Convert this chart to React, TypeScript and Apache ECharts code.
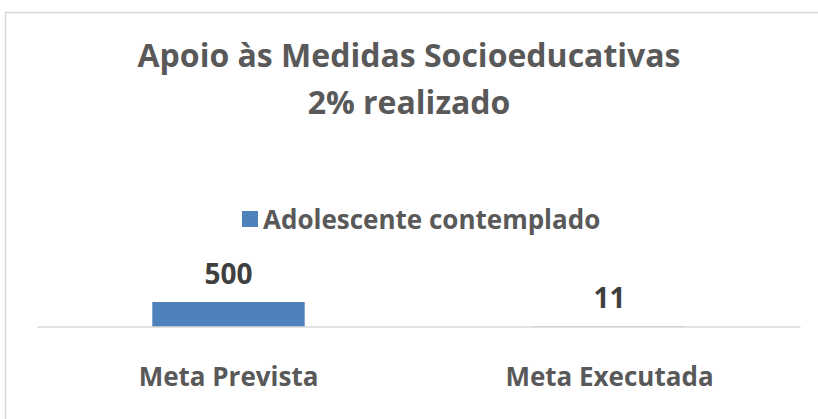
import React, { useEffect, useRef } from "react";
import * as echarts from "echarts";

const titleLines = ["Apoio às Medidas Socioeducativas", "2% realizado"];
const categories = ["Meta Prevista", "Meta Executada"];
const seriesName = "Adolescente contemplado";
const values = [500, 11];

export default function App() {
  const ref = useRef<HTMLDivElement>(null);
  useEffect(() => {
    if (!ref.current) return;
    const chart = echarts.init(ref.current, null, { renderer: "svg" });
    const font = "'Open Sans', Lato, sans-serif";
    chart.setOption({
      animation: false,
      backgroundColor: "#ffffff",
      graphic: [
        {
          type: "rect",
          shape: { x: 5.5, y: 12.5, width: 900, height: 500 },
          style: { fill: "none", stroke: "#d9d9d9", lineWidth: 1.5 },
          silent: true,
        },
      ],
      title: {
        text: titleLines.join("\n"),
        left: "center",
        top: 26,
        textStyle: {
          fontFamily: font,
          fontWeight: "bold",
          fontSize: 32,
          color: "#595959",
          lineHeight: 47,
        },
      },
      legend: {
        top: 201,
        left: 237,
        itemWidth: 16,
        itemHeight: 16,
        icon: "rect",
        itemGap: 8,
        textStyle: {
          fontFamily: font,
          fontWeight: "bold",
          fontSize: 26,
          color: "#595959",
        },
        data: [seriesName],
      },
      grid: { left: 38, right: 18, top: 302, bottom: 92, containLabel: false },
      xAxis: {
        type: "category",
        data: categories,
        z: 5,
        axisLine: { lineStyle: { color: "#d9d9d9", width: 1.5 } },
        axisTick: { show: false },
        axisLabel: {
          margin: 36,
          fontFamily: font,
          fontWeight: "bold",
          fontSize: 26,
          color: "#595959",
        },
      },
      yAxis: {
        type: "value",
        min: 0,
        max: 500,
        show: false,
        splitLine: { show: false },
      },
      series: [
        {
          name: seriesName,
          type: "bar",
          data: values,
          barWidth: "40%",
          itemStyle: { color: "#4f81bd" },
          label: {
            show: true,
            position: "top",
            distance: 15,
            fontFamily: font,
            fontWeight: "bold",
            fontSize: 28,
            color: "#404040",
          },
        },
      ],
    });
    return () => chart.dispose();
  }, []);
  return (
    <div
      ref={ref}
      style={{ position: "absolute", left: 0, top: 0, width: 818, height: 419 }}
    />
  );
}
